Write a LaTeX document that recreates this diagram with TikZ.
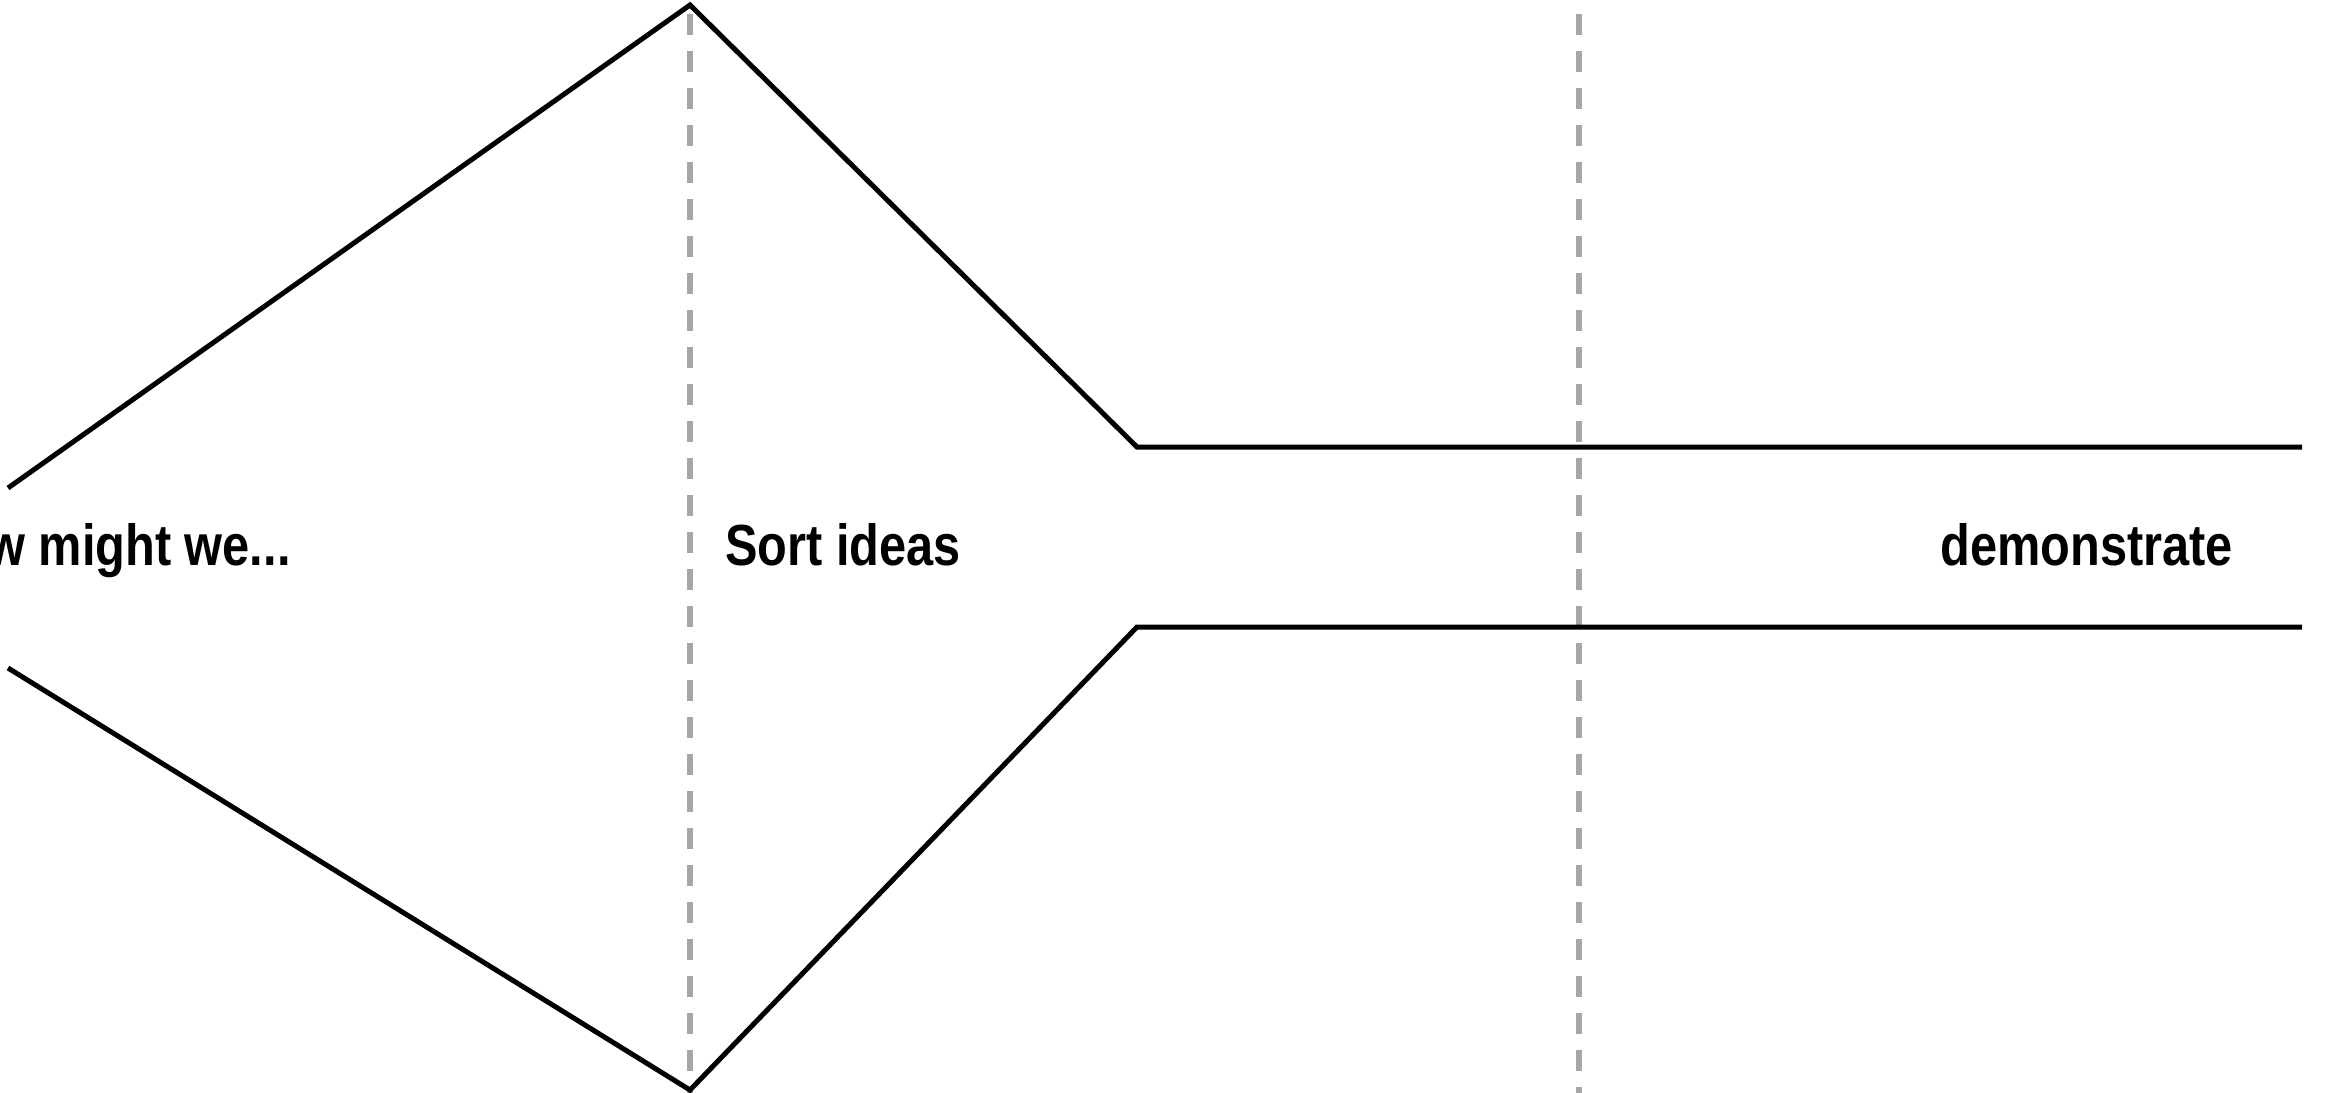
\documentclass[tikz,border=0pt]{standalone}
\usepackage{fontspec}
\newfontfamily\lblfont[FakeStretch=0.84]{Liberation Sans Bold}
\definecolor{guide}{RGB}{166,166,166}
\begin{document}
\begin{tikzpicture}[x=0.5pt,y=-0.5pt,
  outline/.style={line width=2.5pt,black},
  guideline/.style={line width=2.75pt,guide,dash pattern=on 10.5pt off 8pt},
  lbl/.style={inner sep=0pt,font=\lblfont\fontsize{29}{33}\selectfont}]
\useasboundingbox (0,0) rectangle (2326,1093);
\clip (0,0) rectangle (2326,1093);
% guide lines
\coordinate (g1t) at (690,14);
\coordinate (g1b) at (690,1100);
\coordinate (g2t) at (1579,14);
\coordinate (g2b) at (1579,1100);
\draw[guideline] (g1t) -- (g1b);
\draw[guideline] (g2t) -- (g2b);
% outline vertices
\coordinate (ul) at (8,488);
\coordinate (top) at (690,5);
\coordinate (uc) at (1137,447);
\coordinate (ur) at (2302,447);
\coordinate (ll) at (8,668);
\coordinate (bot) at (690,1090);
\coordinate (lc) at (1137,627);
\coordinate (lr) at (2302,627);
\draw[outline] (ul) -- (top) -- (uc) -- (ur);
\draw[outline] (ll) -- (bot) -- (lc) -- (lr);
% labels
\node[lbl,anchor=base east] (hmw) at (291,565) {How might we...};
\node[lbl,anchor=base west] (sort) at (725,565) {Sort ideas};
\node[lbl,anchor=base west] (demo) at (1940,565) {demonstrate};
\end{tikzpicture}
\end{document}
